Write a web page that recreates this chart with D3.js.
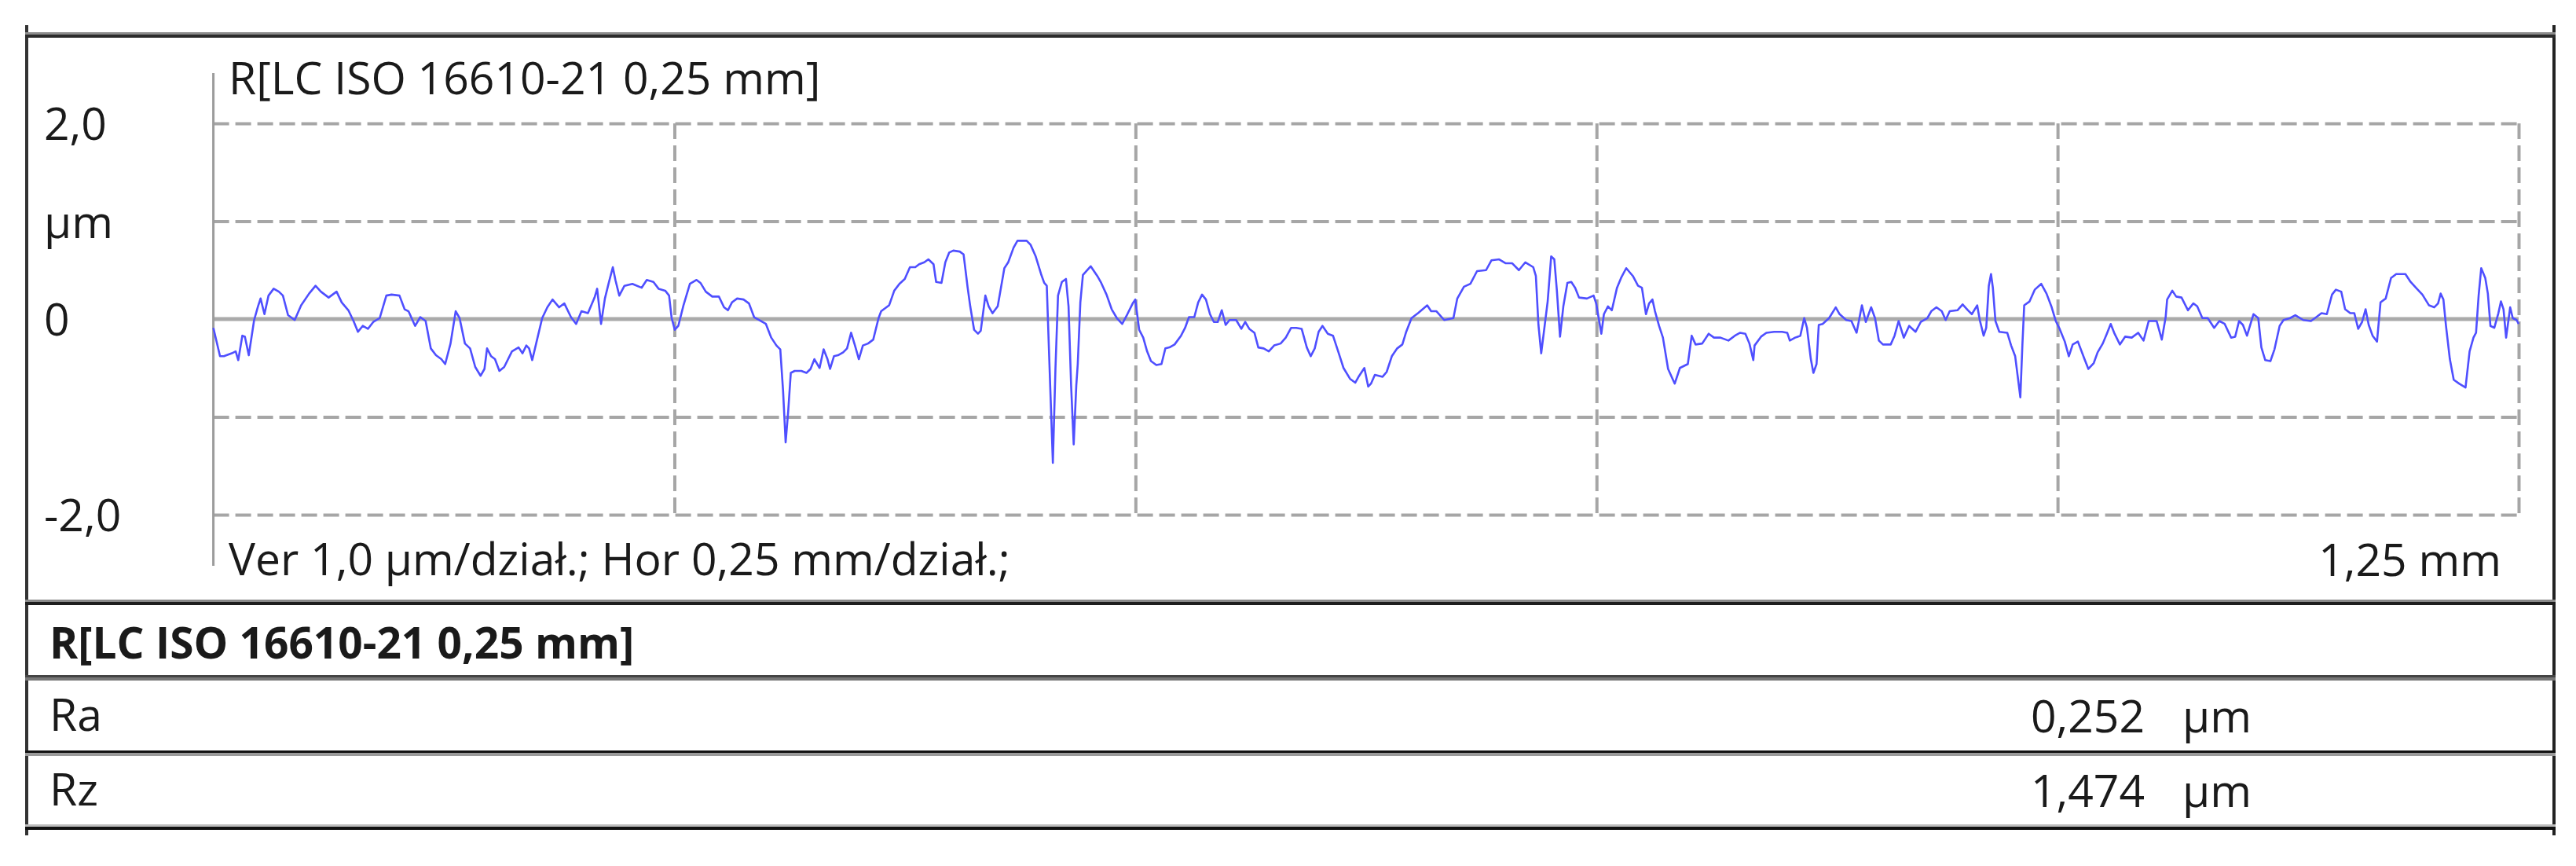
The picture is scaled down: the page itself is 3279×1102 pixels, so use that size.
<!DOCTYPE html>
<html>
<head>
<meta charset="utf-8">
<script src="https://cdn.jsdelivr.net/npm/d3@7"></script>
<style>
  body { margin: 0; background: #fff; }
  svg text { font-family: "Open Sans", "Noto Sans", sans-serif; fill: #1a1a1a; }
</style>
</head>
<body>
<svg id="chart" width="3279" height="1102"></svg>
<script>
// profile: [position along trace in µm, height in µm]
var profileA = [[0,-0.09],[3.6,-0.38],[5.7,-0.38],[10.0,-0.35],[12.1,-0.33],[13.5,-0.42],[15.7,-0.17],[17.1,-0.18],[19.2,-0.37],[22.1,-0.01],[24.2,0.13],[25.6,0.21],[27.7,0.05],[29.9,0.24],[32.7,0.31],[35.5,0.28],[37.7,0.24],[40.5,0.04],[44.1,-0.01],[47.6,0.14],[51.9,0.26],[55.4,0.34],[58.3,0.28],[62.5,0.22],[66.8,0.28],[69.6,0.17],[73.2,0.09],[76.0,-0.02],[78.4,-0.13],[81.0,-0.07],[83.8,-0.10],[86.7,-0.03],[90.2,0.01],[93.8,0.24],[96.6,0.25],[100.9,0.24],[103.7,0.10],[105.8,0.08],[109.4,-0.07],[112.2,0.02],[115.1,-0.02],[117.9,-0.30],[120.7,-0.37],[123.6,-0.41],[125.7,-0.46],[128.6,-0.25],[131.4,0.08],[133.5,0.01],[136.4,-0.25],[139.2,-0.30],[142.0,-0.49],[144.9,-0.58],[147.0,-0.51],[148.4,-0.30],[150.6,-0.38],[152.7,-0.41],[155.1,-0.53],[157.7,-0.49],[161.9,-0.33],[165.5,-0.29],[167.6,-0.35],[169.7,-0.27],[171.2,-0.30],[172.9,-0.42],[175.4,-0.22],[178.3,0.01],[181.1,0.12],[183.9,0.20],[187.5,0.12],[190.3,0.16],[193.9,0.02],[196.7,-0.05],[199.6,0.08],[203.1,0.06],[206.7,0.22],[208.1,0.31]]
var profileB = [[210.2,-0.05],[212.3,0.21],[214.4,0.37],[216.6,0.53],[218.0,0.40],[220.1,0.24],[222.9,0.34],[227.2,0.36],[232.2,0.32],[235.0,0.40],[238.6,0.38],[241.4,0.31],[245.0,0.29],[247.1,0.24],[248.5,0.01],[250.2,-0.11],[252.1,-0.07],[254.9,0.14],[258.4,0.36],[262.0,0.40],[264.1,0.37],[267.0,0.28],[270.5,0.23],[274.1,0.23],[276.9,0.12],[279.0,0.09],[281.2,0.17],[284.0,0.21],[287.5,0.20],[290.4,0.16],[293.2,0.02],[296.8,-0.02],[299.6,-0.05],[302.5,-0.19],[305.3,-0.27],[307.4,-0.31],[308.9,-0.73],[310.3,-1.26],[311.7,-0.94],[313.1,-0.55],[315.2,-0.53],[318.8,-0.53],[321.6,-0.55],[323.8,-0.51],[325.9,-0.41],[328.7,-0.50],[330.9,-0.31],[333.0,-0.41],[334.4,-0.51],[336.5,-0.38],[338.7,-0.37],[341.5,-0.34],[343.6,-0.30],[345.8,-0.14],[347.9,-0.27],[350.0,-0.41],[352.2,-0.27],[355.0,-0.25],[357.8,-0.21],[360.7,0.01],[362.1,0.08],[366.4,0.14],[369.2,0.29],[372.0,0.36],[374.9,0.41],[377.7,0.53],[380.6,0.53],[382.7,0.56],[385.5,0.58],[387.7,0.61],[390.5,0.56],[391.9,0.38],[394.8,0.37],[396.9,0.58],[399.0,0.68],[401.2,0.70],[404.7,0.69],[406.8,0.66],[409.0,0.32],[410.4,0.13],[412.5,-0.11],[414.6,-0.15]]
var profileC = [[416.1,-0.12],[418.6,0.24],[420.4,0.13],[422.5,0.06],[425.3,0.13],[428.9,0.52],[431.0,0.58],[433.9,0.73],[436.0,0.80],[441.0,0.80],[443.1,0.76],[445.9,0.64],[448.8,0.46],[450.5,0.37],[451.9,0.34],[453.0,-0.27],[455.2,-1.47],[456.6,-0.51],[458.0,0.24],[460.1,0.38],[462.3,0.41],[463.7,0.13],[465.1,-0.68],[466.5,-1.28],[467.9,-0.68],[468.7,-0.46],[470.1,0.17],[471.5,0.45],[475.7,0.54],[479.3,0.44],[481.4,0.37],[484.3,0.25],[487.1,0.10],[489.9,0.01],[492.8,-0.05],[495.6,0.05],[498.5,0.16],[499.9,0.20],[502.0,-0.11],[504.2,-0.19],[506.3,-0.33],[508.4,-0.43],[511.3,-0.47],[514.1,-0.46],[516.2,-0.30],[518.4,-0.29],[521.2,-0.26],[524.7,-0.17],[526.9,-0.09],[529.0,0.02],[531.9,0.02],[534.0,0.17],[536.1,0.25],[538.2,0.20],[540.4,0.05],[542.5,-0.03],[544.6,-0.03],[546.8,0.09],[548.9,-0.06],[551.0,-0.01],[554.6,-0.01],[557.4,-0.10],[559.5,-0.03],[561.7,-0.10],[564.5,-0.14],[566.6,-0.29],[569.5,-0.30],[572.3,-0.33],[575.2,-0.27],[578.7,-0.25],[581.5,-0.19],[584.4,-0.09],[587.2,-0.09],[590.1,-0.10],[592.9,-0.29],[595.0,-0.38],[597.2,-0.30],[599.3,-0.13],[601.4,-0.07],[604.3,-0.15],[607.1,-0.17],[609.9,-0.33],[612.8,-0.50],[616.3,-0.61],[619.2,-0.65],[621.3,-0.58],[624.1,-0.50]]
var profileD = [[626.2,-0.69],[627.7,-0.66],[629.8,-0.57],[634.0,-0.59],[636.2,-0.54],[639.0,-0.38],[641.9,-0.30],[644.7,-0.26],[646.8,-0.13],[649.7,0.01],[653.2,0.06],[658.2,0.14],[660.3,0.08],[663.2,0.08],[667.4,-0.01],[672.4,0.01],[674.5,0.21],[678.1,0.33],[681.6,0.36],[685.2,0.49],[690.1,0.50],[693.0,0.60],[697.2,0.61],[700.8,0.57],[704.3,0.57],[707.9,0.50],[711.4,0.58],[715.7,0.53],[717.1,0.44],[718.5,-0.06],[720.0,-0.35],[721.4,-0.14],[723.5,0.18],[725.4,0.64],[727.1,0.61],[728.5,0.29],[730.2,-0.18],[732.0,0.13],[734.2,0.37],[736.3,0.38],[738.4,0.32],[740.5,0.22],[744.8,0.21],[748.4,0.24],[749.8,0.16],[752.6,-0.15],[754.0,0.05],[756.2,0.13],[758.3,0.09],[761.1,0.32],[763.3,0.42],[766.1,0.52],[769.7,0.44],[772.5,0.34],[774.6,0.32],[776.8,0.05],[778.5,0.16],[780.3,0.20],[781.7,0.08],[783.9,-0.07],[786.0,-0.19],[788.8,-0.51],[792.4,-0.66],[795.2,-0.50],[799.5,-0.46],[801.6,-0.17],[803.7,-0.26],[807.3,-0.25],[810.8,-0.15],[813.7,-0.19],[817.2,-0.19],[821.5,-0.22],[825.0,-0.17],[827.9,-0.14],[830.7,-0.15],[832.9,-0.25],[835.0,-0.42]]
var profileE = [[835.7,-0.27],[839.2,-0.18],[842.1,-0.14],[846.3,-0.13],[850.6,-0.13],[853.4,-0.14],[854.8,-0.22],[857.7,-0.19],[860.5,-0.17],[862.6,0.01],[864.1,-0.09],[866.2,-0.41],[867.6,-0.55],[869.3,-0.46],[870.5,-0.06],[872.6,-0.05],[876.1,0.01],[879.7,0.12],[881.8,0.05],[885.4,-0.01],[888.2,-0.02],[891.0,-0.14],[893.9,0.14],[896.0,-0.03],[898.9,0.12],[901.0,0.01],[903.1,-0.22],[905.3,-0.26],[909.5,-0.26],[911.6,-0.17],[913.8,-0.02],[916.6,-0.19],[919.5,-0.07],[923.0,-0.13],[925.8,-0.03],[929.4,0.01],[931.5,0.08],[934.3,0.12],[937.2,0.08],[939.3,-0.01],[941.5,0.08],[945.7,0.09],[948.5,0.15],[951.4,0.09],[953.5,0.05],[956.4,0.14],[957.8,-0.01],[959.9,-0.17],[961.3,-0.09],[962.7,0.34],[963.9,0.46],[964.9,0.32],[966.3,-0.02],[968.4,-0.13],[972.7,-0.14],[974.8,-0.27],[977.0,-0.38],[978.4,-0.59],[979.8,-0.80],[980.9,-0.27],[981.9,0.14],[984.8,0.18],[987.6,0.30],[991.1,0.36],[994.0,0.26],[996.8,0.12],[999.0,-0.02],[1001.1,-0.10],[1003.9,-0.23],[1006.1,-0.38],[1008.2,-0.26],[1011.0,-0.23],[1014.6,-0.41],[1016.7,-0.51],[1019.6,-0.45],[1021.7,-0.34],[1024.5,-0.25],[1026.7,-0.15],[1028.8,-0.05],[1030.9,-0.15],[1033.8,-0.26],[1036.6,-0.18],[1040.2,-0.19],[1043.7,-0.14]]
var profileF = [[1046.6,-0.22],[1049.4,-0.02],[1053.7,-0.02],[1056.5,-0.21],[1058.6,0.02],[1059.4,0.20],[1062.2,0.29],[1064.3,0.23],[1067.2,0.22],[1070.7,0.09],[1073.6,0.16],[1075.7,0.13],[1078.5,0.01],[1081.4,0.01],[1084.9,-0.09],[1087.7,-0.02],[1090.6,-0.05],[1094.1,-0.19],[1096.3,-0.18],[1098.4,-0.02],[1100.5,-0.06],[1102.7,-0.17],[1106.2,0.05],[1108.8,0.01],[1110.5,-0.29],[1112.6,-0.42],[1115.4,-0.43],[1117.6,-0.31],[1120.4,-0.07],[1122.5,-0.01],[1126.1,0.01],[1128.9,0.04],[1133.2,-0.01],[1137.4,-0.02],[1140.3,0.02],[1143.1,0.06],[1146.0,0.05],[1148.8,0.25],[1150.9,0.30],[1153.8,0.28],[1155.9,0.10],[1158.7,0.06],[1160.9,0.06],[1163.0,-0.10],[1165.1,-0.03],[1167.0,0.10],[1168.7,-0.06],[1170.8,-0.17],[1173.2,-0.23],[1175.1,0.17],[1177.9,0.21],[1180.8,0.42],[1183.6,0.46],[1188.6,0.46],[1191.4,0.38],[1194.3,0.32],[1197.8,0.25],[1201.4,0.14],[1204.2,0.12],[1206.3,0.16],[1207.7,0.26],[1209.2,0.20],[1210.6,-0.07],[1212.7,-0.41],[1214.8,-0.62],[1217.7,-0.66],[1221.2,-0.70],[1223.4,-0.33],[1225.5,-0.19],[1226.9,-0.14],[1228.3,0.24],[1229.7,0.52],[1231.9,0.42],[1233.3,0.26],[1234.7,-0.07],[1236.8,-0.09],[1239.0,0.06],[1240.4,0.18],[1241.8,0.10],[1243.2,-0.19],[1245.4,0.12],[1246.8,0.01],[1248.9,-0.01],[1250.0,-0.05]]

var yTickValues = [2, 1, 0, -2]
var yTickLabels = ['2,0', 'µm', '0', '-2,0']
var xGridValues = [250, 500, 750, 1000, 1250]
var yGridValues = [-2, -1, 1, 2]

var chartTitle = 'R[LC ISO 16610-21 0,25 mm]'
var scaleNote = 'Ver 1,0 µm/dział.; Hor 0,25 mm/dział.;'
var lengthNote = '1,25 mm'
var paramNames = ['Ra', 'Rz']
var paramValues = ['0,252', '1,474']
var paramUnit = 'µm'

var profile = profileA.concat(profileB, profileC, profileD, profileE, profileF)

var svg = d3.select('#chart')

var x = d3.scaleLinear()
          .domain([0, 1250])
          .range([271.6, 3206])
var y = d3.scaleLinear()
          .domain([-2, 2])
          .range([655, 157])

// horizontal grid (dashed) from a left axis with long ticks
var hGrid = svg.append('g')
    .attr('transform', 'translate(' + x(0) + ',0)')
    .call(d3.axisLeft(y).tickValues(yGridValues).tickSize(-(x(1250) - x(0))).tickFormat(''))
hGrid.select('.domain').remove()
hGrid.selectAll('line')
    .attr('stroke', '#a6a6a6')
    .attr('stroke-width', 4)
    .attr('stroke-dasharray', '20,8')

// vertical grid (dashed)
var vGrid = svg.append('g')
    .attr('transform', 'translate(0,' + y(2) + ')')
    .call(d3.axisBottom(x).tickValues(xGridValues).tickSize(y(-2) - y(2)).tickFormat(''))
vGrid.select('.domain').remove()
vGrid.selectAll('line')
    .attr('stroke', '#a6a6a6')
    .attr('stroke-width', 4)
    .attr('stroke-dasharray', '20,8')

// zero line
svg.append('line')
    .attr('x1', x(0)).attr('x2', x(1250))
    .attr('y1', y(0)).attr('y2', y(0))
    .attr('stroke', '#aaaaaa')
    .attr('stroke-width', 5)

// y axis line
svg.append('line')
    .attr('x1', x(0)).attr('x2', x(0))
    .attr('y1', 93).attr('y2', 720)
    .attr('stroke', '#9c9c9c')
    .attr('stroke-width', 3)

// profile
var line = d3.line()
    .x(function(d){ return x(d[0]) })
    .y(function(d){ return y(d[1]) })

svg.append('path')
    .datum(profile)
    .attr('d', line)
    .attr('fill', 'none')
    .attr('stroke', '#4f4fff')
    .attr('stroke-width', 2.6)
    .attr('stroke-linejoin', 'round')

// tick labels
svg.selectAll('text.ytick')
    .data(yTickValues)
    .enter()
    .append('text')
    .attr('class', 'ytick')
    .attr('x', 56)
    .attr('y', function(d){ return y(d) + 21 })
    .style('font-size', '57px')
    .text(function(d, i){ return yTickLabels[i] })

svg.append('text')
    .attr('x', 291).attr('y', 120)
    .style('font-size', '57px')
    .text(chartTitle)

svg.append('text')
    .attr('x', 291).attr('y', 732)
    .style('font-size', '57px')
    .text(scaleNote)

svg.append('text')
    .attr('x', 3184).attr('y', 733)
    .attr('text-anchor', 'end')
    .style('font-size', '57px')
    .text(lengthNote)

// table part
svg.append('text')
    .attr('x', 63).attr('y', 838)
    .style('font-size', '55px')
    .style('font-weight', 'bold')
    .text(chartTitle)

var rowBase = [930, 1025]
paramNames.forEach(function(name, i){
    svg.append('text')
        .attr('x', 63).attr('y', rowBase[i])
        .style('font-size', '57px')
        .text(name)
    svg.append('text')
        .attr('x', 2730).attr('y', rowBase[i] + 2)
        .attr('text-anchor', 'end')
        .style('font-size', '57px')
        .text(paramValues[i])
    svg.append('text')
        .attr('x', 2778).attr('y', rowBase[i] + 2)
        .style('font-size', '57px')
        .text(paramUnit)
})

// frame
var frame = svg.append('g')
frame.append('rect').attr('x', 32).attr('y', 32).attr('width', 4).attr('height', 1031).attr('fill', '#333')
frame.append('rect').attr('x', 3249).attr('y', 32).attr('width', 4).attr('height', 1031).attr('fill', '#222')
frame.append('rect').attr('x', 32).attr('y', 41).attr('width', 3221).attr('height', 3).attr('fill', '#8c8c8c')
frame.append('rect').attr('x', 32).attr('y', 44).attr('width', 3221).attr('height', 4).attr('fill', '#2b2b2b')

var seps = [[763, '#8a8a8a', '#1e1e1e'], [859, '#444', '#777'], [955, '#111', '#9a9a9a'], [1049, '#bdbdbd', '#111']]
seps.forEach(function(s){
    frame.append('rect').attr('x', 32).attr('y', s[0]).attr('width', 3221).attr('height', 3).attr('fill', s[1])
    frame.append('rect').attr('x', 32).attr('y', s[0] + 3).attr('width', 3221).attr('height', 4).attr('fill', s[2])
})
</script>
</body>
</html>
